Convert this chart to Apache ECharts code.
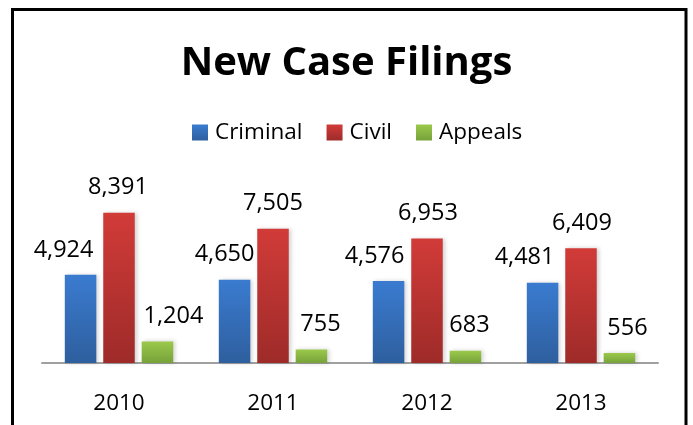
<!DOCTYPE html>
<html>
<head>
<meta charset="utf-8">
<script src="https://cdn.jsdelivr.net/npm/echarts@6/dist/echarts.min.js"></script>
<style>
html,body{margin:0;padding:0;background:#fff;}
#main{width:693px;height:425px;}
</style>
</head>
<body>
<div id="main"></div>
<script>
const categories = ['2010', '2011', '2012', '2013'];
const criminal = [4924, 4650, 4576, 4481];
const civil = [8391, 7505, 6953, 6409];
const appeals = [1204, 755, 683, 556];
// label horizontal nudges (style, not data)
const criminalNudge = [-17, -10, -14, -18];
const civilNudge = [-1, 0, 1, 1];
const appealsNudge = [16, 9, 4, 8];

const FONT = '"Open Sans", sans-serif';

function grad(top, bottom) {
  return new echarts.graphic.LinearGradient(0, 0, 0, 1, [
    { offset: 0, color: top },
    { offset: 1, color: bottom }
  ]);
}

function makeData(values, nudges) {
  return values.map((v, i) => ({
    value: v,
    label: { offset: [nudges[i], 0] }
  }));
}

function series(name, values, nudges, top, bottom) {
  return {
    name: name,
    type: 'bar',
    barWidth: 31.5,
    barGap: '22%',
    data: makeData(values, nudges),
    itemStyle: {
      color: grad(top, bottom),
      shadowBlur: 4,
      shadowColor: 'rgba(0,0,0,0.18)',
      shadowOffsetX: 2,
      shadowOffsetY: 0
    },
    label: {
      show: true,
      position: 'top',
      distance: 13,
      fontFamily: FONT,
      fontSize: 23.5,
      color: '#000',
      formatter: p => p.value.toLocaleString('en-US')
    }
  };
}

const chart = echarts.init(document.getElementById('main'), null, { renderer: 'canvas' });
chart.setOption({
  animation: false,
  backgroundColor: '#fff',
  color: ['#3a7bd0', '#d13b38', '#9bc94b'],
  title: {
    text: 'New Case Filings',
    left: 'center',
    top: 39,
    textStyle: { fontFamily: FONT, fontSize: 40, fontWeight: 'bold', color: '#000' }
  },
  legend: {
    left: 187,
    top: 116,
    itemWidth: 16,
    itemHeight: 16,
    itemGap: 24,
    icon: 'rect',
    textStyle: { fontFamily: FONT, fontSize: 22.5, color: '#000', padding: [0, 0, 0, 2] },
    data: [
      { name: 'Criminal', itemStyle: { color: grad('#3a7bd0', '#2e5f9e') } },
      { name: 'Civil', itemStyle: { color: grad('#d13b38', '#9e2b29') } },
      { name: 'Appeals', itemStyle: { color: grad('#9bc94b', '#76a23a') } }
    ]
  },
  grid: { left: 42, right: 35, top: 184, height: 179, containLabel: false },
  xAxis: {
    type: 'category',
    data: categories,
    axisLine: { lineStyle: { color: '#a0a0a0', width: 2 } },
    axisTick: { show: false },
    axisLabel: { fontFamily: FONT, fontSize: 22.5, color: '#000', margin: 29 }
  },
  yAxis: {
    type: 'value',
    min: 0,
    max: 10000,
    show: false,
    splitLine: { show: false }
  },
  graphic: [{
    type: 'rect',
    shape: { x: 12.5, y: 9.5, width: 673.5, height: 500 },
    style: { fill: 'none', stroke: '#000', lineWidth: 3 },
    silent: true,
    z: 100
  }],
  series: [
    series('Criminal', criminal, criminalNudge, '#3a7bd0', '#2e5f9e'),
    series('Civil', civil, civilNudge, '#d13b38', '#9e2b29'),
    series('Appeals', appeals, appealsNudge, '#9bc94b', '#76a23a')
  ]
});
</script>
</body>
</html>
